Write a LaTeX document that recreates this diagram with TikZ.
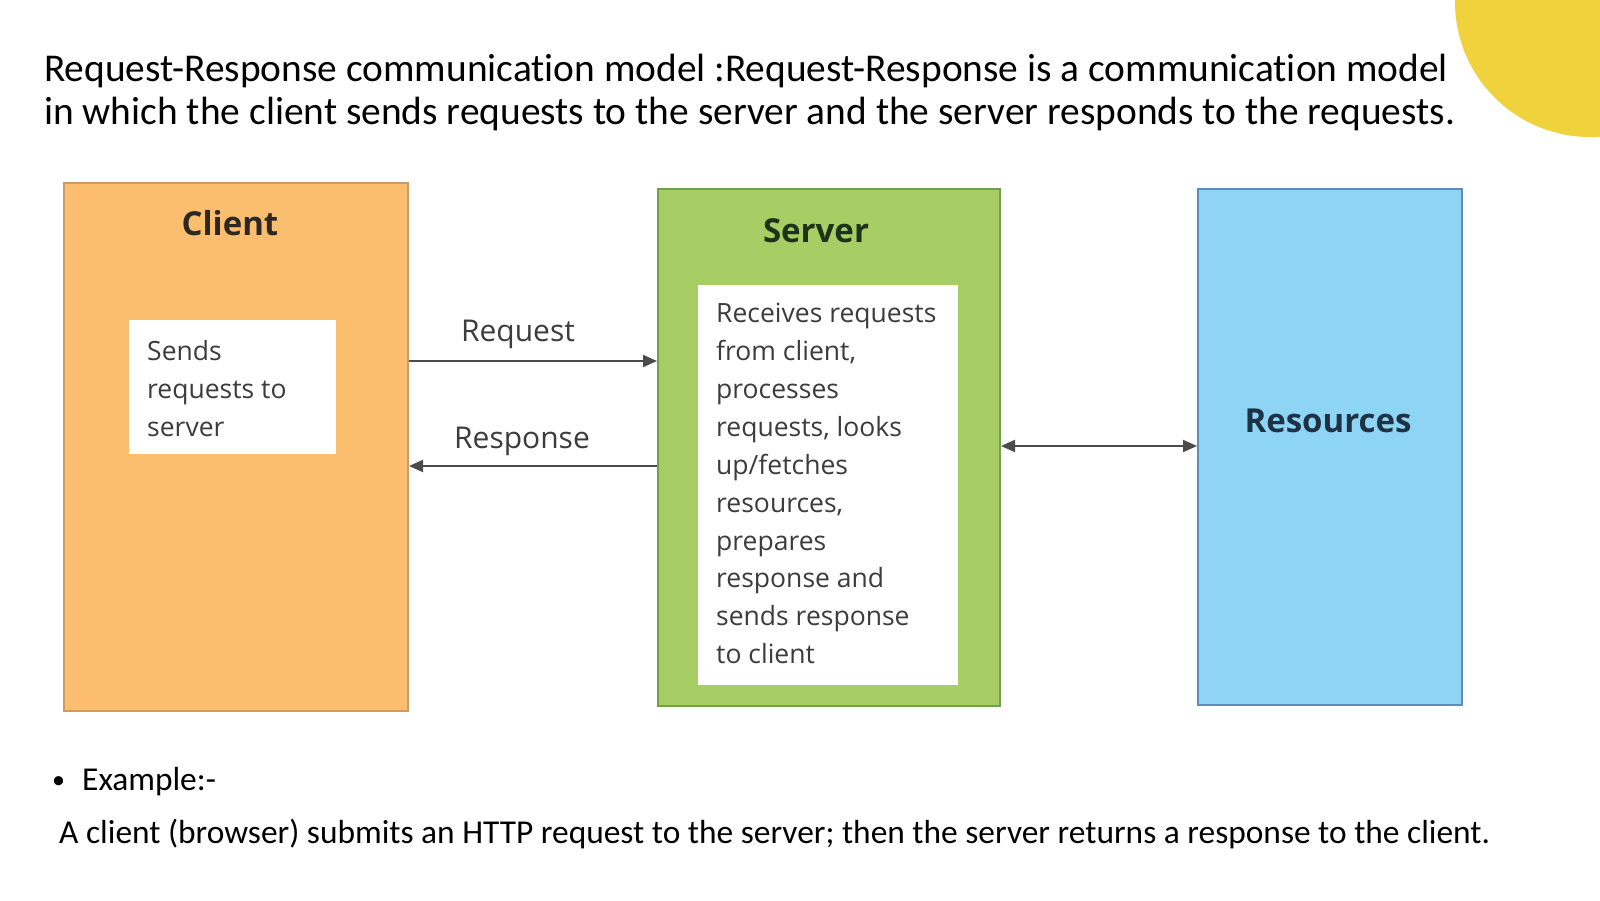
\documentclass[tikz,border=0pt]{standalone}
\usepackage{fontspec}
\setmainfont{Carlito}[Ligatures=NoCommon]
\newfontfamily\osans{Open Sans}
\usetikzlibrary{arrows.meta}
\definecolor{yel}{RGB}{240,210,60}
\definecolor{orfill}{RGB}{250,190,110}
\definecolor{ordraw}{RGB}{205,155,100}
\definecolor{grfill}{RGB}{166,206,100}
\definecolor{grdraw}{RGB}{110,160,80}
\definecolor{blfill}{RGB}{142,213,245}
\definecolor{bldraw}{RGB}{95,140,185}
\definecolor{txt}{RGB}{60,60,60}
\definecolor{arrc}{RGB}{75,75,75}
\begin{document}
\begin{tikzpicture}[x=1pt,y=-1pt,
  panel/.style={draw, line width=2pt, inner sep=0pt, anchor=north west},
  inbox/.style={fill=white, inner sep=0pt, anchor=north west},
  head/.style={font=\osans\bfseries\fontsize{33}{40}\selectfont},
  body/.style={font=\osans\fontsize{26.5}{37.9}\selectfont, text=txt, align=left, inner sep=0pt, anchor=north west},
  lbl/.style={font=\osans\fontsize{30}{36}\selectfont, text=txt},
  arr/.style={draw=arrc, line width=2pt, -{Triangle[length=14pt,width=12pt]}},
  slide/.style={anchor=base west, inner sep=0pt, text=black},
]
\useasboundingbox (0,0) rectangle (1600,900);
\begin{scope}
  \clip (0,0) rectangle (1600,900);
  \fill[yel] (1590,2) circle[radius=135];
\end{scope}

% title
\node[slide, font=\fontsize{39.4}{43}\selectfont] (t1) at (44,81) {Request-Response communication model :Request-Response is a communication model};
\node[slide, font=\fontsize{39.4}{43}\selectfont] (t2) at (44,124) {in which the client sends requests to the server and the server responds to the requests.};

% panels
\node[panel, fill=orfill, draw=ordraw, minimum width=344pt, minimum height=528pt] (client) at (63,182) {};
\node[panel, fill=grfill, draw=grdraw, minimum width=342pt, minimum height=517pt] (server) at (657,188) {};
\node[panel, fill=blfill, draw=bldraw, minimum width=264pt, minimum height=516pt] (res) at (1197,188) {};

\node[inbox, minimum width=207pt, minimum height=134pt] (cin) at (129,320) {};
\node[inbox, minimum width=260pt, minimum height=400pt] (sin) at (698,285) {};

\node[head, text={rgb,255:red,45;green,40;blue,35}] (ctitle) at (230,223) {Client};
\node[head, text={rgb,255:red,30;green,50;blue,25}] (stitle) at (816,231) {Server};
\node[head, text={rgb,255:red,30;green,50;blue,70}] (rtitle) at (1328,421) {Resources};

\node[body] (ctext) at (147,340) {Sends\\requests to\\server};
\node[body] (stext) at (716,303) {Receives requests\\from client,\\processes\\requests, looks\\up/fetches\\resources,\\prepares\\response and\\sends response\\to client};

% connectors
\node[lbl] (reqlbl) at (518,334) {Request};
\node[lbl] (reslbl) at (522,441) {Response};
\draw[arr] (client.east |- 0,361) -- (server.west |- 0,361);
\draw[arr] (server.west |- 0,466) -- (client.east |- 0,466);
\draw[arr, {Triangle[length=14pt,width=12pt]}-{Triangle[length=14pt,width=12pt]}] (server.east |- 0,446) -- (res.west |- 0,446);

% example
\node[slide, font=\fontsize{26}{30}\selectfont] (bul) at (52,788) {•};
\node[slide, font=\fontsize{33.4}{38}\selectfont] (ex) at (82,790) {Example:-};
\node[slide, font=\fontsize{33.4}{38}\selectfont] (exline) at (59,843) {A client (browser) submits an HTTP request to the server; then the server returns a response to the client.};
\end{tikzpicture}
\end{document}
